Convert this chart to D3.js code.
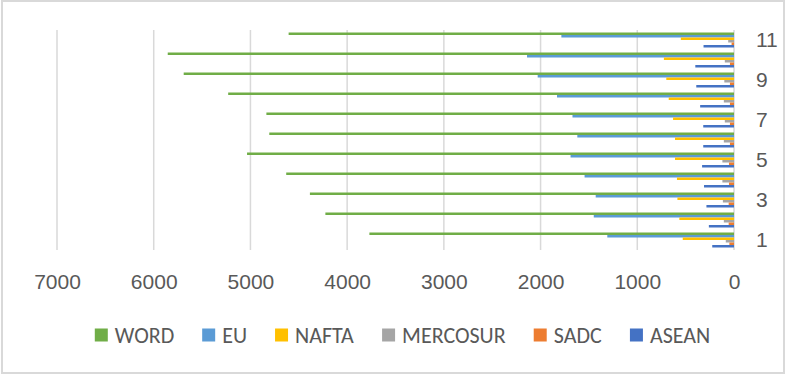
<!DOCTYPE html>
<html>
<head>
<meta charset="utf-8">
<script src="https://cdn.jsdelivr.net/npm/d3@7"></script>
<style>
  body { margin: 0; background: #fff; }
  svg { display: block; font-family: Carlito, Lato, "Liberation Sans", sans-serif; }
  .axis text { fill: #595959; font-size: 21px; }
  .axis path { display: none; }
  .legend text { fill: #595959; font-size: 22px; }
</style>
</head>
<body>
<svg id="chart" width="786" height="375"></svg>
<script>
// categories bottom -> top
const categories = ['1', '2', '3', '4', '5', '6', '7', '8', '9', '10', '11']
const seriesNames = ['WORD', 'EU', 'NAFTA', 'MERCOSUR', 'SADC', 'ASEAN']
const seriesColors = ['#70AD47', '#5B9BD5', '#FFC000', '#A5A5A5', '#ED7D31', '#4472C4']

const word = [3770, 4225, 4385, 4630, 5035, 4805, 4835, 5230, 5690, 5855, 4605]
const eu = [1310, 1450, 1430, 1545, 1690, 1620, 1670, 1830, 2030, 2140, 1785]
const nafta = [530, 565, 585, 590, 610, 610, 630, 675, 700, 725, 550]
const mercosur = [85, 105, 115, 120, 120, 105, 95, 105, 100, 95, 60]
const sadc = [48, 55, 55, 52, 52, 42, 42, 42, 42, 42, 25]
const asean = [225, 260, 285, 310, 330, 318, 318, 350, 390, 400, 315]

const xTicks = [0, 1000, 2000, 3000, 4000, 5000, 6000, 7000]
const yTickLabels = ['1', '3', '5', '7', '9', '11']

const seriesValues = [word, eu, nafta, mercosur, sadc, asean]

const svg = d3.select('#chart')
const W = 786
const plot = { left: 57, right: 734, top: 30, bottom: 250 }

// outer frame
svg.append('rect')
  .attr('x', 2)
  .attr('y', 1)
  .attr('width', W - 4)
  .attr('height', 372)
  .attr('fill', 'none')
  .attr('stroke', '#D9D9D9')
  .attr('stroke-width', 2)

const x = d3.scaleLinear().domain([0, 7000]).range([plot.right, plot.left])
const y = d3.scaleBand().domain(categories).range([plot.bottom, plot.top])
const ySub = d3.scaleBand().domain(seriesNames).range([2.5, y.bandwidth() - 2.5])

// vertical gridlines
svg.append('g')
  .selectAll('line')
  .data(xTicks)
  .join('line')
  .attr('x1', d => x(d))
  .attr('x2', d => x(d))
  .attr('y1', plot.top)
  .attr('y2', plot.bottom)
  .attr('stroke', '#D9D9D9')
  .attr('stroke-width', 1.5)

// bars
const rows = categories.map((c, i) => ({
  cat: c,
  vals: seriesNames.map((s, j) => ({ name: s, color: seriesColors[j], v: seriesValues[j][i] }))
}))

svg.append('g')
  .selectAll('g')
  .data(rows)
  .join('g')
  .attr('transform', d => `translate(0,${y(d.cat)})`)
  .selectAll('rect')
  .data(d => d.vals)
  .join('rect')
  .attr('x', d => x(d.v))
  .attr('width', d => x(0) - x(d.v))
  .attr('y', d => ySub(d.name))
  .attr('height', ySub.bandwidth())
  .attr('fill', d => d.color)

// x axis
svg.append('g')
  .attr('class', 'axis')
  .attr('transform', `translate(0,${plot.bottom})`)
  .call(d3.axisBottom(x).tickValues(xTicks).tickSize(0).tickPadding(24).tickFormat(d3.format('d')))

// y axis on the right, odd categories only
svg.append('g')
  .attr('class', 'axis')
  .attr('transform', `translate(${plot.right},0)`)
  .call(d3.axisRight(y).tickValues(yTickLabels).tickSize(0).tickPadding(22))

// legend
const legend = svg.append('g').attr('class', 'legend')
const items = legend.selectAll('g')
  .data(seriesNames)
  .join('g')
items.append('rect')
  .attr('width', 13)
  .attr('height', 13)
  .attr('y', 328.5)
  .attr('fill', (d, i) => seriesColors[i])
items.append('text')
  .attr('x', 20)
  .attr('y', 335)
  .attr('dy', '0.35em')
  .text(d => d)

let cx = 0
const gap = 28
items.each(function () {
  const w = this.getBBox().width
  d3.select(this).attr('transform', `translate(${cx},0)`)
  cx += w + gap
})
const total = cx - gap
legend.attr('transform', `translate(${(95 + 710) / 2 - total / 2},0)`)
</script>
</body>
</html>
